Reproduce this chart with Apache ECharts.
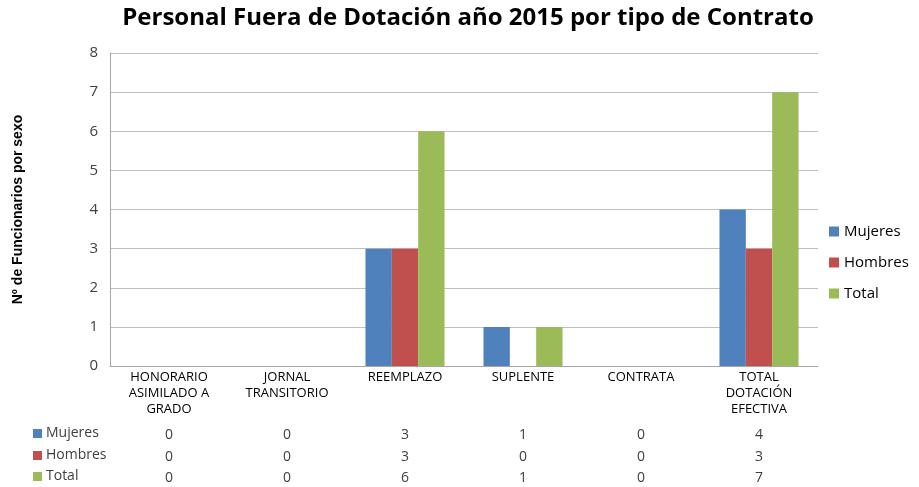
<!DOCTYPE html>
<html><head><meta charset="utf-8">
<script src="https://cdn.jsdelivr.net/npm/echarts@6/dist/echarts.min.js"></script>
<style>html,body{margin:0;padding:0;background:#fff}#c{width:919px;height:487px}</style>
</head><body><div id="c"></div>
<script>
const categories = ['HONORARIO\nASIMILADO A\nGRADO', 'JORNAL\nTRANSITORIO', 'REEMPLAZO', 'SUPLENTE', 'CONTRATA', 'TOTAL\nDOTACIÓN\nEFECTIVA'];
const mujeres = [0, 0, 3, 1, 0, 4];
const hombres = [0, 0, 3, 0, 0, 3];
const total = [0, 0, 6, 1, 0, 7];
const seriesNames = ['Mujeres', 'Hombres', 'Total'];
const colors = ['#4F81BD', '#C0504D', '#9BBB59'];
const yTicks = [0, 1, 2, 3, 4, 5, 6, 7, 8];
const titleText = 'Personal Fuera de Dotación año 2015 por tipo de Contrato';
const yName = 'Nº de Funcionarios por sexo';

const seriesData = [mujeres, hombres, total];
const font = 'Open Sans, sans-serif';
const chart = echarts.init(document.getElementById('c'));

const rowOffsets = [62, 84, 105];
const tableAxes = seriesData.map((arr, i) => ({
  type: 'category', data: categories, gridIndex: 0, position: 'bottom', offset: rowOffsets[i],
  axisLine: {show: false}, axisTick: {show: false}, splitLine: {show: false},
  axisLabel: {margin: 0, fontSize: 14, color: '#404040', fontFamily: font, interval: 0,
    formatter: (v, idx) => String(arr[idx])}
}));

const graphics = [];
const rowY = [433, 455, 476];
seriesNames.forEach((n, i) => {
  graphics.push({type: 'rect', left: 33, top: rowY[i] - 4, shape: {width: 9, height: 9}, style: {fill: colors[i]}});
  graphics.push({type: 'text', left: 46, top: rowY[i] - 7, style: {text: n, fontSize: 14, fill: '#404040', fontFamily: font}});
});

chart.setOption({
  animation: false,
  title: {text: titleText, left: 463, top: 1, textAlign: 'center',
    textStyle: {fontSize: 24, fontWeight: 'bold', color: '#000', fontFamily: font}},
  grid: {left: 110, right: 101, top: 53, bottom: 121, containLabel: false},
  legend: {orient: 'vertical', left: 824, top: 219, itemWidth: 10, itemHeight: 10, itemGap: 16, icon: 'rect',
    data: seriesNames, textStyle: {fontSize: 15, color: '#000', fontFamily: font}},
  xAxis: [{
    type: 'category', data: categories,
    axisLine: {lineStyle: {color: '#a6a6a6'}}, axisTick: {show: false},
    axisLabel: {interval: 0, fontSize: 13, color: '#000', fontFamily: font, lineHeight: 16, margin: 3}
  }].concat(tableAxes),
  yAxis: {
    type: 'value', min: 0, max: 8, interval: 1, name: yName, nameLocation: 'middle', nameGap: 85, nameRotate: 90,
    nameTextStyle: {fontSize: 14, fontWeight: 'bold', color: '#000', fontFamily: 'Liberation Sans Narrow, sans-serif'},
    axisLine: {show: true, lineStyle: {color: '#a6a6a6'}}, axisTick: {show: false},
    axisLabel: {fontSize: 15, color: '#404040', fontFamily: font, margin: 12,
      formatter: v => yTicks.includes(v) ? String(v) : ''},
    splitLine: {lineStyle: {color: '#bfbfbf'}}
  },
  series: seriesNames.map((n, i) => ({
    name: n, type: 'bar', data: seriesData[i], barGap: '0%', barCategoryGap: '33%',
    itemStyle: {color: colors[i]}
  })),
  graphic: graphics
});
</script></body></html>
